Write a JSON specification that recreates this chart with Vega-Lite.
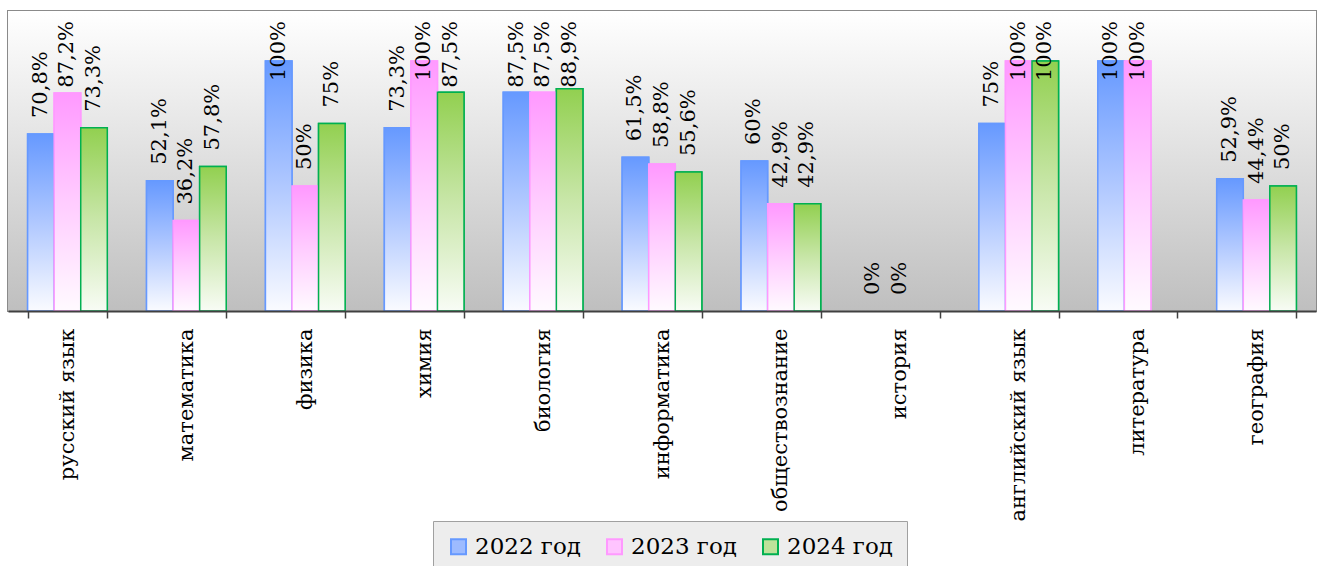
{
  "$schema": "https://vega.github.io/schema/vega-lite/v6.json",
  "autosize": {"type": "none"},
  "width": 1308,
  "height": 300,
  "padding": {"left": 8, "top": 11, "right": 6, "bottom": 255},
  "background": "white",
  "config": {
    "view": {"stroke": "#8a8a8a", "strokeWidth": 2},
    "font": "DejaVu Serif"
  },
  "data": {
    "values": [
      {"subject": "русский язык", "year": "2022 год", "value": 70.8, "label": "70,8%"},
      {"subject": "русский язык", "year": "2023 год", "value": 87.2, "label": "87,2%"},
      {"subject": "русский язык", "year": "2024 год", "value": 73.3, "label": "73,3%"},
      {"subject": "математика", "year": "2022 год", "value": 52.1, "label": "52,1%"},
      {"subject": "математика", "year": "2023 год", "value": 36.2, "label": "36,2%"},
      {"subject": "математика", "year": "2024 год", "value": 57.8, "label": "57,8%"},
      {"subject": "физика", "year": "2022 год", "value": 100, "label": "100%"},
      {"subject": "физика", "year": "2023 год", "value": 50, "label": "50%"},
      {"subject": "физика", "year": "2024 год", "value": 75, "label": "75%"},
      {"subject": "химия", "year": "2022 год", "value": 73.3, "label": "73,3%"},
      {"subject": "химия", "year": "2023 год", "value": 100, "label": "100%"},
      {"subject": "химия", "year": "2024 год", "value": 87.5, "label": "87,5%"},
      {"subject": "биология", "year": "2022 год", "value": 87.5, "label": "87,5%"},
      {"subject": "биология", "year": "2023 год", "value": 87.5, "label": "87,5%"},
      {"subject": "биология", "year": "2024 год", "value": 88.9, "label": "88,9%"},
      {"subject": "информатика", "year": "2022 год", "value": 61.5, "label": "61,5%"},
      {"subject": "информатика", "year": "2023 год", "value": 58.8, "label": "58,8%"},
      {"subject": "информатика", "year": "2024 год", "value": 55.6, "label": "55,6%"},
      {"subject": "обществознание", "year": "2022 год", "value": 60, "label": "60%"},
      {"subject": "обществознание", "year": "2023 год", "value": 42.9, "label": "42,9%"},
      {"subject": "обществознание", "year": "2024 год", "value": 42.9, "label": "42,9%"},
      {"subject": "история", "year": "2022 год", "value": 0, "label": "0%"},
      {"subject": "история", "year": "2023 год", "value": 0, "label": "0%"},
      {"subject": "английский язык", "year": "2022 год", "value": 75, "label": "75%"},
      {"subject": "английский язык", "year": "2023 год", "value": 100, "label": "100%"},
      {"subject": "английский язык", "year": "2024 год", "value": 100, "label": "100%"},
      {"subject": "литература", "year": "2022 год", "value": 100, "label": "100%"},
      {"subject": "литература", "year": "2023 год", "value": 100, "label": "100%"},
      {"subject": "география", "year": "2022 год", "value": 52.9, "label": "52,9%"},
      {"subject": "география", "year": "2023 год", "value": 44.4, "label": "44,4%"},
      {"subject": "география", "year": "2024 год", "value": 50, "label": "50%"}
    ]
  },
  "encoding": {
    "x": {
      "field": "subject",
      "type": "nominal",
      "sort": null,
      "scale": {
        "domain": ["русский язык", "математика", "физика", "химия", "биология", "информатика", "обществознание", "история", "английский язык", "литература", "география"],
        "paddingInner": 0.33,
        "paddingOuter": 0.165
      },
      "axis": {
        "title": null,
        "labelAngle": -90,
        "labelFont": "DejaVu Serif",
        "labelFontSize": 21,
        "labelColor": "#000000",
        "labelPadding": 10,
        "labelLimit": 400,
        "tickBand": "extent",
        "tickSize": 7,
        "tickColor": "#404040",
        "tickWidth": 1.5,
        "domainColor": "#404040",
        "domainWidth": 2,
        "grid": false,
        "zindex": 1
      }
    },
    "xOffset": {"field": "year", "type": "nominal", "scale": {"domain": ["2022 год", "2023 год", "2024 год"], "paddingInner": 0, "paddingOuter": 0}}
  },
  "layer": [
    {
      "mark": {
        "type": "rect",
        "fill": {
          "gradient": "linear", "x1": 0, "y1": 0, "x2": 0, "y2": 1,
          "stops": [
            {"offset": 0, "color": "#FFFFFF"},
            {"offset": 1, "color": "#BFBFBF"}
          ]
        }
      },
      "encoding": {
        "x": {"value": 0},
        "x2": {"value": "width"},
        "xOffset": null,
        "y": {"datum": 0, "type": "quantitative"},
        "y2": {"datum": 120}
      }
    },
    {
      "transform": [{"filter": "datum.value > 0"}],
      "mark": {"type": "bar", "strokeWidth": 1.5},
      "encoding": {
        "y": {
          "field": "value",
          "type": "quantitative",
          "scale": {"domain": [0, 120], "nice": false},
          "axis": {
            "title": null,
            "labels": false,
            "ticks": false,
            "domain": false,
            "grid": true,
            "gridColor": "#8c8c8c",
            "gridWidth": 1,
            "values": [0, 20, 40, 60, 80, 100, 120]
          }
        },
        "fill": {
          "field": "year",
          "type": "nominal",
          "scale": {"domain": ["2022 год", "2023 год", "2024 год"], "range": ["#9DBBFF", "#FFC4FF", "#BDE29A"]},
          "legend": {
            "title": null,
            "orient": "none",
            "legendX": 425,
            "legendY": 510,
            "direction": "horizontal",
            "symbolType": "square",
            "symbolSize": 225,
            "symbolStrokeWidth": 2,
            "labelFont": "DejaVu Serif",
            "labelFontSize": 23,
            "labelColor": "#000000",
            "labelOffset": 5,
            "columnPadding": 22,
            "padding": 14,
            "strokeColor": "#a0a0a0",
            "fillColor": "#EDEDED"
          }
        },
        "stroke": {
          "field": "year",
          "type": "nominal",
          "scale": {"domain": ["2022 год", "2023 год", "2024 год"], "range": ["#6699FF", "#FF99FF", "#00B050"]},
          "legend": {
            "title": null,
            "orient": "none",
            "legendX": 425,
            "legendY": 510,
            "direction": "horizontal",
            "symbolType": "square",
            "symbolSize": 225,
            "symbolStrokeWidth": 2,
            "labelFont": "DejaVu Serif",
            "labelFontSize": 23,
            "labelColor": "#000000",
            "labelOffset": 5,
            "columnPadding": 22,
            "padding": 14,
            "strokeColor": "#a0a0a0",
            "fillColor": "#EDEDED"
          }
        }
      }
    },
    {
      "transform": [{"filter": "datum.value > 0"}],
      "mark": {"type": "bar", "strokeWidth": 1.5},
      "encoding": {
        "y": {"field": "value", "type": "quantitative"},
        "stroke": {
          "condition": [
            {"test": "datum.year === '2022 год'", "value": "#6699FF"},
            {"test": "datum.year === '2023 год'", "value": "#FF99FF"}
          ],
          "value": "#00B050"
        },
        "fill": {
          "condition": [
            {"test": "datum.year === '2022 год'", "value": {"gradient": "linear", "x1": 0, "y1": 0, "x2": 0, "y2": 1, "stops": [{"offset": 0, "color": "#6699FF"}, {"offset": 0.5, "color": "#B0C8FF"}, {"offset": 1, "color": "#FAFBFF"}]}},
            {"test": "datum.year === '2023 год'", "value": {"gradient": "linear", "x1": 0, "y1": 0, "x2": 0, "y2": 1, "stops": [{"offset": 0, "color": "#FF99FF"}, {"offset": 0.5, "color": "#FFCCFF"}, {"offset": 1, "color": "#FFFAFF"}]}}
          ],
          "value": {"gradient": "linear", "x1": 0, "y1": 0, "x2": 0, "y2": 1, "stops": [{"offset": 0, "color": "#92D050"}, {"offset": 0.5, "color": "#C8E6A8"}, {"offset": 1, "color": "#F8FCF5"}]}
        }
      }
    },
    {
      "transform": [{"filter": "datum.value < 85"}],
      "mark": {"type": "text", "angle": 270, "align": "left", "baseline": "middle", "dx": 16, "font": "DejaVu Serif", "fontSize": 21, "color": "#000000"},
      "encoding": {
        "y": {"field": "value", "type": "quantitative"},
        "text": {"field": "label"}
      }
    },
    {
      "transform": [{"filter": "datum.value >= 85"}],
      "mark": {"type": "text", "angle": 270, "align": "right", "baseline": "middle", "dx": -10, "font": "DejaVu Serif", "fontSize": 21, "color": "#000000"},
      "encoding": {
        "y": {"datum": 120},
        "text": {"field": "label"}
      }
    }
  ]
}
